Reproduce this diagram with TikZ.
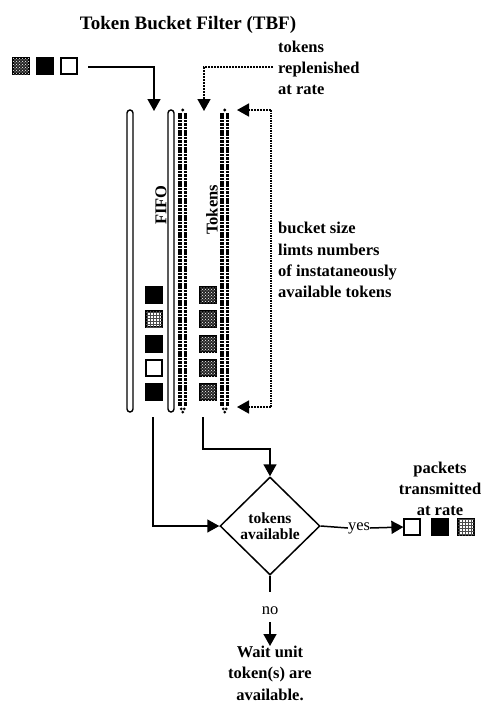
\documentclass[tikz,border=0pt]{standalone}
\usepackage{fontspec}
\setmainfont{Liberation Serif}
\usetikzlibrary{arrows.meta,shapes.geometric,patterns}
\begin{document}
\begin{tikzpicture}[x=1pt,y=-1pt,
  lbl/.style={font=\bfseries\fontsize{16.5}{21.3}\selectfont, inner sep=0pt},
  plain/.style={font=\fontsize{16.5}{20}\selectfont, inner sep=0pt},
  pkt/.style={draw, line width=1.2pt, minimum size=16pt, inner sep=0pt},
  blk/.style={pkt, fill=black},
  wht/.style={pkt, fill=white},
  hat/.style={pkt, fill=black!85, postaction={pattern=crosshatch dots, pattern color=white}},
  hatl/.style={pkt, fill=white, postaction={pattern=grid, pattern color=black!70}},
  wire/.style={line width=1.5pt},
  arr/.style={line width=1.5pt, -{Triangle[length=12pt,width=13pt]}},
  dotarr/.style={line width=1.6pt, dash pattern=on 2pt off 1pt, -{Triangle[length=12pt,width=13pt]}},
  wall/.style={line width=1.4pt, rounded corners=3pt},
  dotcol/.style={line width=3.1pt, dash pattern=on 2.5pt off 0.9pt},
]
\useasboundingbox (0,0) rectangle (485,705);

% title
\node[lbl, font=\bfseries\fontsize{19}{22}\selectfont] (title) at (188,25) {Token Bucket Filter (TBF)};

% incoming packets
\node[hat] (in1) at (21,66) {};
\node[blk] (in2) at (45,66) {};
\node[wht] (in3) at (69,66) {};
\coordinate (inA) at (88,67);
\coordinate (inB) at (154,67);
\coordinate (inC) at (154,111);
\draw[arr] (inA) -- (inB) -- (inC);

% replenish
\node[lbl, align=left, anchor=west] (repl) at (278,68) {tokens\\replenished\\at rate};
\coordinate (rA) at (273,67);
\coordinate (rB) at (204,67);
\coordinate (rC) at (204,111);
\draw[dotarr] (rA) -- (rB) -- (rC);

% FIFO walls
\draw[wall] (127,412) rectangle (133,110);
\draw[wall] (168,412) rectangle (174,110);
% token bucket dotted walls
\foreach \xx in {180,222} {
  \draw[dotcol] (\xx,113) -- (\xx,406);
  \draw[dotcol] (\xx+5.5,113) -- (\xx+5.5,406);
  \fill (\xx+2.75,110) circle (1.6pt);
  \fill (\xx+1.2,408.8) circle (1.5pt);
  \fill (\xx+4.3,408.8) circle (1.5pt);
  \fill (\xx+2.75,412) circle (1.5pt);
}

\node[lbl, rotate=90] (fifo) at (161,205) {FIFO};
\node[lbl, rotate=90] (tok) at (212,210) {Tokens};

% queued packets
\node[blk] (q1) at (154,295) {};
\node[hatl] (q2) at (154,319) {};
\node[blk] (q3) at (154,344) {};
\node[wht] (q4) at (154,368) {};
\node[blk] (q5) at (154,392) {};
% tokens
\node[hat] (t1) at (208,295) {};
\node[hat] (t2) at (208,319) {};
\node[hat] (t3) at (208,344) {};
\node[hat] (t4) at (208,368) {};
\node[hat] (t5) at (208,392) {};

% bucket size
\coordinate (bT) at (237,110);
\coordinate (bB) at (237,407);
\coordinate (bTr) at (271,110);
\coordinate (bBr) at (271,407);
\draw[line width=1.2pt, dash pattern=on 1.5pt off 1pt] (bTr) -- (bBr);
\draw[dotarr] (bTr) -- (bT);
\draw[dotarr] (bBr) -- (bB);
\node[lbl, align=left, anchor=west] (bsz) at (278,260) {bucket size\\limts numbers\\of instataneously\\available tokens};

% decision
\node[diamond, draw, line width=1.5pt, minimum width=100pt, minimum height=98pt, inner sep=0pt,
      align=center, font=\bfseries\fontsize{15.5}{16}\selectfont] (dec) at (270,526) {tokens\\available};

\coordinate (fA) at (153,417);
\coordinate (fB) at (153,526);
\draw[arr] (fA) -- (fB) -- (dec.west);
\coordinate (tA) at (203,417);
\coordinate (tB) at (203,449);
\coordinate (tC) at (270,449);
\draw[arr] (tA) -- (tB) -- (tC) -- (dec.north);

% yes branch
\node[plain] (yes) at (359,528) {yes};
\node[wht] (o1) at (412,527) {};
\node[blk] (o2) at (440,527) {};
\node[hatl] (o3) at (466,527) {};
\draw[wire] (dec.east) -- (yes.west);
\draw[arr] (yes.east) -- (o1.west);
\node[lbl, align=center] (tx) at (440,489) {packets\\transmitted\\at rate};

% no branch
\coordinate (nA) at (270,592);
\draw[wire] (dec.south) -- (nA);
\node[plain] (no) at (270,611) {no};
\node[lbl, align=center, anchor=north] (wait) at (270,646) {Wait unit\\token(s) are\\available.};
\draw[arr, shorten <=7pt] (no.south) -- (wait.north);
\end{tikzpicture}
\end{document}
